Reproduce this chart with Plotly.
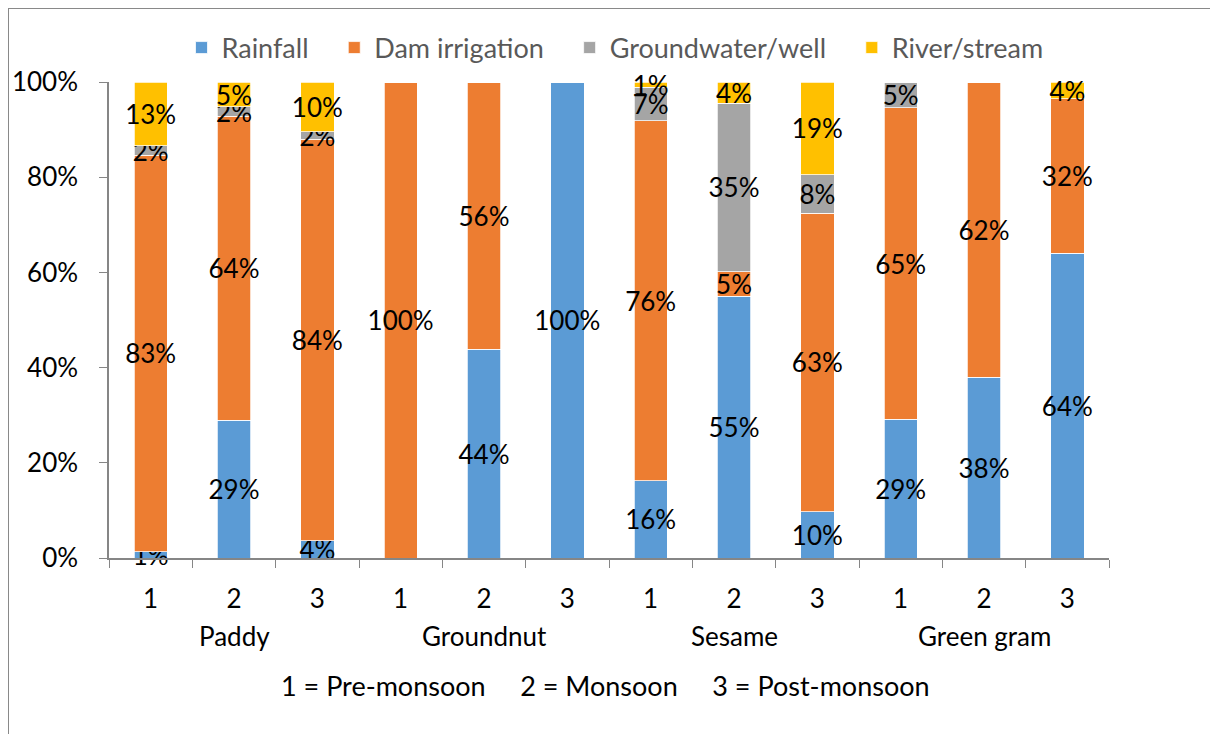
import plotly.graph_objects as go

crops = ["Paddy", "Groundnut", "Sesame", "Green gram"]
seasons = ["1", "2", "3"]

# share of each water source, % per crop and season (1, 2, 3)
rainfall = [1.3, 29.0, 3.6, 0, 43.9, 100, 16.2, 55.0, 9.7, 29.2, 38.0, 64.1]
dam = [83.4, 63.9, 84.4, 100, 56.1, 0, 75.7, 5.2, 62.8, 65.4, 62.0, 32.4]
groundwater = [1.9, 1.9, 1.6, 0, 0, 0, 7.0, 35.4, 8.1, 5.4, 0, 0]
river = [13.4, 5.2, 10.4, 0, 0, 0, 1.1, 4.4, 19.4, 0, 0, 3.5]

names = ["Rainfall", "Dam irrigation", "Groundwater/well", "River/stream"]
colors = ["#5B9BD5", "#ED7D31", "#A5A5A5", "#FFC000"]
yticks = [0, 20, 40, 60, 80, 100]
gap = "\u00a0" * 5
note = "1 = Pre-monsoon" + gap + "2 = Monsoon" + gap + "3 = Post-monsoon"

FONT = "Lato"

# one category per crop/season pair, labelled only by season number
cats = [c + " " + s for c in crops for s in seasons]
season_lbl = seasons * len(crops)

fig = go.Figure()
for i, (name, vals, col) in enumerate(zip(names, [rainfall, dam, groundwater, river], colors)):
    labels = ["%d%%" % round(v) if v > 0 else "" for v in vals]
    pad = "\u00a0" * 3 if i < len(names) - 1 else ""
    fig.add_trace(go.Bar(
        name=name + pad, x=cats, y=vals, text=labels,
        textposition="inside", insidetextanchor="middle", textangle=0,
        constraintext="none",
        textfont=dict(family=FONT, size=26, color="black"),
        marker=dict(color=col, line=dict(color="white", width=0.75)),
        cliponaxis=False,
    ))

# page has an 8px body margin, so figure coords are shifted by 8px
fig.update_layout(
    barmode="stack", bargap=0.6,
    width=1218, height=734,
    margin=dict(l=101, r=117, t=74, b=184, autoexpand=False),
    plot_bgcolor="white", paper_bgcolor="white",
    font=dict(family=FONT, size=26, color="black"),
    legend=dict(orientation="h", x=0.506, xanchor="center", y=1.0714, yanchor="middle",
                font=dict(size=27, color="#595959"), traceorder="normal"),
    showlegend=True,
)
# small headroom so stacks summing to 100 (float) keep their labels
fig.update_yaxes(range=[0, 100.05], tickvals=yticks, ticktext=["%d%%" % v for v in yticks],
                 showgrid=False, showline=True, linecolor="#868686", linewidth=1.5,
                 ticks="outside", ticklen=8, tickcolor="#868686", zeroline=False,
                 ticklabelstandoff=16)
fig.update_xaxes(type="category", tickvals=cats, ticktext=season_lbl,
                 showgrid=False, showline=True, linecolor="#868686", linewidth=1.5,
                 ticks="outside", ticklen=8, tickcolor="#868686", tickson="boundaries",
                 ticklabelstandoff=17, tickfont=dict(size=26))

for c in crops:
    fig.add_annotation(text=c, xref="x", yref="paper", x=c + " 2", y=-0.1639,
                       yanchor="middle", showarrow=False, font=dict(size=26, color="black"))

fig.add_annotation(text=note, xref="paper", yref="paper", x=0.496, y=-0.2689,
                   yanchor="middle", showarrow=False, font=dict(size=27, color="black"))
# outer chart border (cropped at right/bottom in the original)
fig.add_shape(type="rect", xref="paper", yref="paper", x0=-0.101, x1=1.2,
              y0=-0.5, y1=1.1555, line=dict(color="#898989", width=2))

fig.write_html("out.html")
